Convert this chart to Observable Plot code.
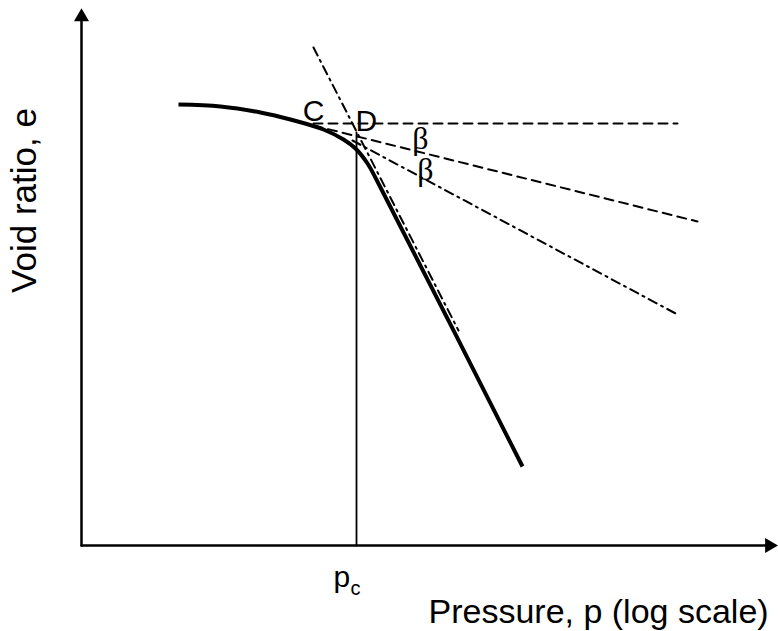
<!DOCTYPE html>
<html>
<head>
<meta charset="utf-8">
<script src="https://cdn.jsdelivr.net/npm/d3@7"></script>
<script src="https://cdn.jsdelivr.net/npm/@observablehq/plot@0.6"></script>
<style>
  html, body { margin: 0; padding: 0; background: #fff; }
  #chart svg { display: block; }
</style>
</head>
<body>
<div id="chart"></div>
<script>
// Compression curve (x = log pressure, arbitrary units; e = void ratio, arbitrary units)
const curveLogP = [0.97, 1.39, 1.79, 2.09, 2.42, 2.62, 2.74, 2.86, 2.99, 4.41];
const curveE    = [0.882, 0.878, 0.866, 0.852, 0.832, 0.812, 0.794, 0.764, 0.716, 0.158];

// Preconsolidation pressure
const pcLogP = 2.75;
const pcTopE = 0.826;

// Construction lines at the point of maximum curvature
const horizLogP = [2.32, 5.96];
const horizE    = [0.844, 0.844];
const tangentLogP = [2.32, 6.16];
const tangentE    = [0.840, 0.648];
const bisectorLogP = [2.71, 5.96];
const bisectorE    = [0.810, 0.462];
const virginExtLogP = [2.32, 3.77];
const virginExtE    = [0.996, 0.43];

// Axes
const xAxisEnd = 6.88;
const yAxisEnd = 1.057;

// Texts
const yTitle = "Void ratio, e";
const xTitle = "Pressure, p (log scale)";
const labelC = "C";
const labelD = "D";
const labelBeta = "β";
const labelP = "p";
const labelSub = "c";

const toRows = (xs, ys) => xs.map((x, i) => ({x, y: ys[i]}));

const sans = "Liberation Sans, Arial, Helvetica, sans-serif";
const serif = "Liberation Serif, Times New Roman, serif";

const chart = Plot.plot({
  width: 778,
  height: 631,
  marginLeft: 81,
  marginRight: 0,
  marginTop: 0,
  marginBottom: 86,
  style: {background: "#fff", fontFamily: sans},
  x: {type: "linear", domain: [0, 6.97], axis: null},
  y: {type: "linear", domain: [0, 1.09], axis: null},
  marks: [
    // axes with arrows
    Plot.line(toRows([0, xAxisEnd - 0.02], [0, 0]), {x: "x", y: "y", stroke: "#000", strokeWidth: 2.5}),
    Plot.line(toRows([0, 0], [0, yAxisEnd - 0.005]), {x: "x", y: "y", stroke: "#000", strokeWidth: 2.5}),
    Plot.dot([{x: xAxisEnd, y: 0}], {x: "x", y: "y", symbol: "triangle", r: 5.6, fill: "#000", stroke: "none", rotate: 90}),
    Plot.dot([{x: 0, y: yAxisEnd}], {x: "x", y: "y", symbol: "triangle", r: 5.6, fill: "#000", stroke: "none"}),

    // vertical line at pc
    Plot.line(toRows([pcLogP, pcLogP], [0, pcTopE]), {x: "x", y: "y", stroke: "#000", strokeWidth: 1.8}),

    // construction lines
    Plot.line(toRows(horizLogP, horizE), {x: "x", y: "y", stroke: "#000", strokeWidth: 2, strokeDasharray: "9,6"}),
    Plot.line(toRows(tangentLogP, tangentE), {x: "x", y: "y", stroke: "#000", strokeWidth: 2, strokeDasharray: "9,6"}),
    Plot.line(toRows(bisectorLogP, bisectorE), {x: "x", y: "y", stroke: "#000", strokeWidth: 2, strokeDasharray: "9,5,2,5"}),
    Plot.line(toRows(virginExtLogP, virginExtE), {x: "x", y: "y", stroke: "#000", strokeWidth: 2, strokeDasharray: "9,5,2,5"}),

    // compression curve
    Plot.line(toRows(curveLogP, curveE), {x: "x", y: "y", stroke: "#000", strokeWidth: 4, curve: "catmull-rom", strokeLinecap: "butt"}),

    // labels
    Plot.text([yTitle], {x: -0.57, y: 0.69, text: d => d, rotate: -90, fontSize: 35, fill: "#000", fontFamily: sans}),
    Plot.text([xTitle], {x: 3.47, y: -0.154, text: d => d, textAnchor: "start", lineAnchor: "bottom", fontSize: 34, fill: "#000", fontFamily: sans}),
    Plot.text([labelC], {x: 2.32, y: 0.85, text: d => d, lineAnchor: "bottom", fontSize: 30, fill: "#000", fontFamily: sans}),
    Plot.text([labelD], {x: 2.74, y: 0.83, text: d => d, textAnchor: "start", lineAnchor: "bottom", fontSize: 30, fill: "#000", fontFamily: sans}),
    Plot.text([labelBeta], {x: 3.39, y: 0.814, text: d => d, lineAnchor: "middle", fontSize: 32, fill: "#000", fontFamily: serif}),
    Plot.text([labelBeta], {x: 3.44, y: 0.752, text: d => d, lineAnchor: "middle", fontSize: 32, fill: "#000", fontFamily: serif}),
    Plot.text([labelP], {x: 2.52, y: -0.083, text: d => d, textAnchor: "start", lineAnchor: "bottom", fontSize: 30, fill: "#000", fontFamily: sans}),
    Plot.text([labelSub], {x: 2.69, y: -0.099, text: d => d, textAnchor: "start", lineAnchor: "bottom", fontSize: 20, fill: "#000", fontFamily: sans})
  ]
});

document.getElementById("chart").appendChild(chart);
</script>
</body>
</html>
